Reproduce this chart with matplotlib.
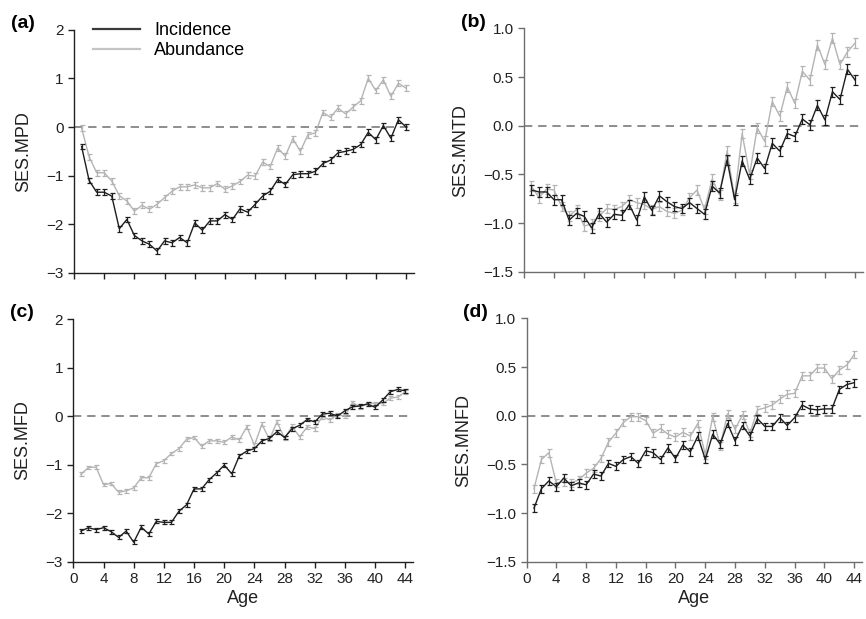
import matplotlib.pyplot as plt
from matplotlib.lines import Line2D

plt.rcParams['font.family'] = ['Liberation Sans', 'DejaVu Sans']

# age classes
age = list(range(1, 45))

# (a) SES.MPD
mpd_inc = [-0.40, -1.10, -1.34, -1.34, -1.42, -2.09, -1.90, -2.23, -2.34, -2.41,
           -2.55, -2.34, -2.38, -2.27, -2.38, -1.97, -2.12, -1.93, -1.93, -1.80,
           -1.90, -1.68, -1.75, -1.59, -1.42, -1.32, -1.08, -1.18, -0.98, -0.96,
           -0.96, -0.91, -0.75, -0.68, -0.53, -0.50, -0.46, -0.36, -0.11, -0.26,
           0.03, -0.23, 0.15, 0.00]
mpd_abu = [-0.02, -0.61, -0.94, -0.94, -1.11, -1.41, -1.52, -1.73, -1.61, -1.69,
           -1.59, -1.45, -1.32, -1.23, -1.23, -1.19, -1.25, -1.25, -1.16, -1.28,
           -1.21, -1.12, -0.99, -1.01, -0.72, -0.81, -0.43, -0.60, -0.24, -0.50,
           -0.16, -0.12, 0.30, 0.20, 0.39, 0.27, 0.41, 0.54, 1.00, 0.75,
           0.97, 0.63, 0.90, 0.80]

# (b) SES.MNTD
mntd_inc = [-0.66, -0.68, -0.68, -0.76, -0.76, -0.97, -0.90, -0.93, -1.05, -0.90,
            -0.99, -0.91, -0.92, -0.81, -0.97, -0.73, -0.87, -0.72, -0.78, -0.83,
            -0.85, -0.79, -0.85, -0.91, -0.62, -0.69, -0.35, -0.76, -0.36, -0.55,
            -0.33, -0.44, -0.18, -0.26, -0.08, -0.11, 0.07, 0.01, 0.21, 0.06,
            0.35, 0.27, 0.58, 0.47]
mntd_abu = [-0.62, -0.74, -0.65, -0.66, -0.83, -0.93, -0.86, -1.03, -1.01, -0.93,
            -0.85, -0.86, -0.83, -0.76, -0.79, -0.81, -0.86, -0.83, -0.88, -0.90,
            -0.87, -0.74, -0.66, -0.86, -0.55, -0.71, -0.26, -0.74, -0.08, -0.50,
            -0.02, -0.16, 0.25, 0.10, 0.40, 0.23, 0.56, 0.47, 0.83, 0.63,
            0.90, 0.63, 0.76, 0.85]

# (c) SES.MFD
mfd_inc = [-2.37, -2.30, -2.34, -2.30, -2.38, -2.50, -2.37, -2.60, -2.29, -2.43,
           -2.17, -2.19, -2.19, -1.96, -1.83, -1.50, -1.50, -1.31, -1.17, -1.01,
           -1.19, -0.82, -0.72, -0.67, -0.51, -0.46, -0.32, -0.44, -0.26, -0.19,
           -0.07, -0.12, 0.04, 0.06, 0.00, 0.11, 0.19, 0.21, 0.25, 0.18,
           0.33, 0.50, 0.55, 0.52]
mfd_abu = [-1.20, -1.06, -1.05, -1.41, -1.39, -1.57, -1.54, -1.48, -1.27, -1.27,
           -0.98, -0.92, -0.77, -0.67, -0.48, -0.44, -0.62, -0.51, -0.51, -0.54,
           -0.43, -0.49, -0.22, -0.60, -0.17, -0.48, -0.12, -0.46, -0.21, -0.43,
           -0.22, -0.26, -0.01, -0.08, 0.03, 0.00, 0.28, 0.19, 0.26, 0.26,
           0.26, 0.37, 0.39, 0.50]

# (d) SES.MNFD
mnfd_inc = [-0.95, -0.75, -0.67, -0.73, -0.64, -0.72, -0.69, -0.71, -0.60, -0.62,
            -0.49, -0.52, -0.45, -0.42, -0.49, -0.36, -0.38, -0.45, -0.33, -0.44,
            -0.30, -0.37, -0.21, -0.45, -0.19, -0.29, -0.08, -0.26, -0.10, -0.21,
            -0.03, -0.11, -0.11, -0.02, -0.10, -0.02, 0.11, 0.07, 0.06, 0.07,
            0.07, 0.27, 0.32, 0.34]
mnfd_abu = [-0.75, -0.45, -0.38, -0.69, -0.68, -0.69, -0.66, -0.59, -0.54, -0.44,
            -0.27, -0.18, -0.07, -0.01, -0.01, -0.05, -0.18, -0.13, -0.19, -0.22,
            -0.17, -0.21, -0.08, -0.40, -0.01, -0.31, 0.02, -0.14, 0.01, -0.18,
            0.06, 0.08, 0.11, 0.17, 0.22, 0.23, 0.41, 0.41, 0.49, 0.49,
            0.38, 0.47, 0.52, 0.63]

panel_tags = ['(a)', '(b)', '(c)', '(d)']
ylabels = ['SES.MPD', 'SES.MNTD', 'SES.MFD', 'SES.MNFD']
errs = [0.06, 0.05, 0.04, 0.04]

black = '#1e1e1e'
grey = '#b4b4b4'

fig = plt.figure(figsize=(8.66, 6.19), dpi=100)
# axes boxes in figure fractions: [left, bottom, width, height]
boxes = [[0.0855, 0.559, 0.392, 0.393],
         [0.605, 0.561, 0.391, 0.393],
         [0.0847, 0.0926, 0.392, 0.392],
         [0.608, 0.0926, 0.387, 0.393]]
series = [(mpd_inc, mpd_abu), (mntd_inc, mntd_abu), (mfd_inc, mfd_abu), (mnfd_inc, mnfd_abu)]

for i, box in enumerate(boxes):
    ax = fig.add_axes(box)
    inc, abu = series[i]
    ax.axhline(0, color='#7a7a7a', lw=1.2, ls=(0, (5, 3.5)), zorder=1)
    ax.errorbar(age, abu, yerr=errs[i], color=grey, lw=1.0, elinewidth=0.9,
                capsize=1.8, capthick=0.9, zorder=2)
    ax.errorbar(age, inc, yerr=errs[i], color=black, lw=1.0, elinewidth=0.9,
                capsize=1.8, capthick=0.9, zorder=3)

    ax.set_xlim(0, 45)
    ax.set_xticks(range(0, 45, 4))
    if i % 2 == 0:
        ax.set_ylim(-3, 2)
        ax.set_yticks([-3, -2, -1, 0, 1, 2])
        ax.set_yticklabels(['\u22123', '\u22122', '\u22121', '0', '1', '2'])
        spine_col = '#202020'
    else:
        ax.set_ylim(-1.5, 1.0)
        ax.set_yticks([-1.5, -1.0, -0.5, 0.0, 0.5, 1.0])
        ax.set_yticklabels(['\u22121.5', '\u22121.0', '\u22120.5', '0.0', '0.5', '1.0'])
        spine_col = '#6e6e6e'

    for s in ['top', 'right']:
        ax.spines[s].set_visible(False)
    for s in ['left', 'bottom']:
        ax.spines[s].set_color(spine_col)
        ax.spines[s].set_linewidth(1.0)
    ax.tick_params(direction='out', length=4.5, width=1.0, color=spine_col,
                   labelsize=11, labelcolor='#222222', pad=3)

    if i < 2:
        ax.tick_params(axis='x', labelbottom=False)
    else:
        ax.set_xlabel('Age', fontsize=13, color='#222222', labelpad=3)
    ax.set_ylabel(ylabels[i], fontsize=13, color='#222222', labelpad=10)

    fig.text(box[0] - 0.073, box[1] + box[3] + 0.01, panel_tags[i],
             fontsize=14, fontweight='bold', ha='left', va='center')

    if i == 0:
        handles = [Line2D([], [], color='#3a3a3a', lw=1.6),
                   Line2D([], [], color='#c4c4c4', lw=1.6)]
        ax.legend(handles, ['Incidence', 'Abundance'], loc='upper left',
                  bbox_to_anchor=(0.056, 1.03), frameon=False, fontsize=13,
                  handlelength=2.6, handletextpad=0.8, labelspacing=0.15,
                  borderpad=0, borderaxespad=0)

fig.savefig('out.png', dpi=100)
